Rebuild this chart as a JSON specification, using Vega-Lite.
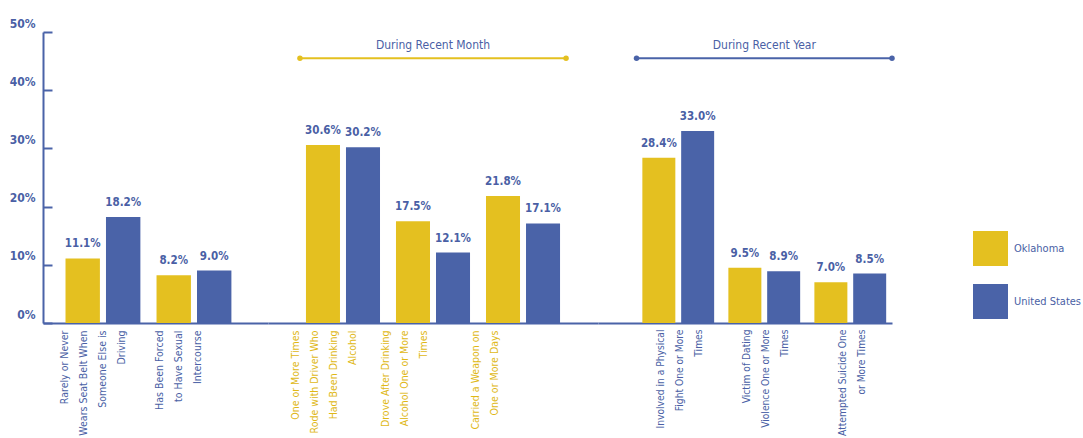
{
  "$schema": "https://vega.github.io/schema/vega-lite/v6.json",
  "background": "white",
  "padding": {"left": 9, "top": 17, "right": 5, "bottom": 0},
  "config": {
    "font": "DejaVu Sans Condensed",
    "view": {"stroke": null},
    "concat": {"spacing": 0},
    "axis": {"domainColor": "#4A63A8", "domainWidth": 2, "tickColor": "#4A63A8", "tickWidth": 2, "grid": false, "title": null, "labelFont": "DejaVu Sans Condensed", "labelColor": "#4A5FA5"}
  },
  "datasets": {
    "bars": [
      {"section": "none", "measure": "Rarely or Never\nWears Seat Belt When\nSomeone Else is\nDriving", "series": "Oklahoma", "value": 11.1},
      {"section": "none", "measure": "Rarely or Never\nWears Seat Belt When\nSomeone Else is\nDriving", "series": "United States", "value": 18.2},
      {"section": "none", "measure": "Has Been Forced\nto Have Sexual\nIntercourse", "series": "Oklahoma", "value": 8.2},
      {"section": "none", "measure": "Has Been Forced\nto Have Sexual\nIntercourse", "series": "United States", "value": 9.0},
      {"section": "month", "measure": "One or More Times\nRode with Driver Who\nHad Been Drinking\nAlcohol", "series": "Oklahoma", "value": 30.6},
      {"section": "month", "measure": "One or More Times\nRode with Driver Who\nHad Been Drinking\nAlcohol", "series": "United States", "value": 30.2},
      {"section": "month", "measure": "Drove After Drinking\nAlcohol One or More\nTimes", "series": "Oklahoma", "value": 17.5},
      {"section": "month", "measure": "Drove After Drinking\nAlcohol One or More\nTimes", "series": "United States", "value": 12.1},
      {"section": "month", "measure": "Carried a Weapon on\nOne or More Days", "series": "Oklahoma", "value": 21.8},
      {"section": "month", "measure": "Carried a Weapon on\nOne or More Days", "series": "United States", "value": 17.1},
      {"section": "year", "measure": "Involved in a Physical\nFight One or More\nTimes", "series": "Oklahoma", "value": 28.4},
      {"section": "year", "measure": "Involved in a Physical\nFight One or More\nTimes", "series": "United States", "value": 33.0},
      {"section": "year", "measure": "Victim of Dating\nViolence One or More\nTimes", "series": "Oklahoma", "value": 9.5},
      {"section": "year", "measure": "Victim of Dating\nViolence One or More\nTimes", "series": "United States", "value": 8.9},
      {"section": "year", "measure": "Attempted Suicide One\nor More Times", "series": "Oklahoma", "value": 7.0},
      {"section": "year", "measure": "Attempted Suicide One\nor More Times", "series": "United States", "value": 8.5}
    ],
    "brackets": [
      {"section": "month", "title": "During Recent Month", "from": "One or More Times\nRode with Driver Who\nHad Been Drinking\nAlcohol", "mid": "Drove After Drinking\nAlcohol One or More\nTimes", "to": "Carried a Weapon on\nOne or More Days"},
      {"section": "year", "title": "During Recent Year", "from": "Involved in a Physical\nFight One or More\nTimes", "mid": "Victim of Dating\nViolence One or More\nTimes", "to": "Attempted Suicide One\nor More Times"}
    ]
  },
  "hconcat": [
    {
      "width": 225, "height": 291,
      "layer": [
        {
          "data": {"name": "bars"},
          "transform": [{"filter": "datum.section == 'none'"}],
          "mark": {"type": "bar"},
          "encoding": {
            "x": {"field": "measure", "type": "nominal", "sort": null,
              "scale": {"paddingInner": 0.044, "paddingOuter": 0.258, "align": 0.35},
              "axis": {"labelAngle": -90, "labelAlign": "right", "labelBaseline": "middle", "labelExpr": "split(datum.value, '\\n')", "labelLineHeight": 19, "labelFontSize": 10.5, "labelPadding": 7, "ticks": false, "labelLimit": 200,
                "labelOffset": {"condition": {"test": "indexof(datum.value, 'Rarely') == 0", "value": -38}, "value": -34}, "labelColor": "#4A5FA5"}},
            "xOffset": {"field": "series", "type": "nominal", "sort": ["Oklahoma", "United States"], "scale": {"paddingInner": 0.15, "paddingOuter": 0.15}},
            "y": {"field": "value", "type": "quantitative", "scale": {"domain": [0, 50], "nice": false},
              "axis": {"values": [0, 10, 20, 30, 40, 50], "labelExpr": "datum.value + '%'", "tickSize": -9, "labelPadding": 17, "labelFontSize": 12, "labelFontWeight": "bold", "labelOffset": -9}},
            "color": {"field": "series", "type": "nominal",
              "scale": {"domain": ["Oklahoma", "United States"], "range": ["#E4C020", "#4A63A8"]},
              "legend": {"title": null, "orient": "none", "legendX": 930, "legendY": 199, "symbolType": "square", "symbolSize": 1225, "symbolStrokeWidth": 0, "symbolOpacity": 1, "rowPadding": 18, "labelOffset": 6, "labelFontSize": 11, "labelFontWeight": "normal", "labelColor": "#4A5FA5", "labelFont": "DejaVu Sans Condensed", "labelLimit": 200}}
          }
        },
        {
          "data": {"name": "bars"},
          "transform": [{"filter": "datum.section == 'none'"}, {"calculate": "format(datum.value, '.1f') + '%'", "as": "label"}],
          "mark": {"type": "text", "baseline": "bottom", "dy": -9, "fontSize": 11.5, "fontWeight": "bold", "color": "#4A5FA5"},
          "encoding": {
            "x": {"field": "measure", "type": "nominal", "sort": null},
            "xOffset": {"field": "series", "type": "nominal", "sort": ["Oklahoma", "United States"]},
            "y": {"field": "value", "type": "quantitative"},
            "text": {"field": "label"}
          }
        }
      ]
    },
    {
      "width": 330, "height": 291,
      "layer": [
        {
          "data": {"name": "bars"},
          "transform": [{"filter": "datum.section == 'month'"}],
          "mark": {"type": "bar"},
          "encoding": {
            "x": {"field": "measure", "type": "nominal",
              "scale": {"domain": ["One or More Times\nRode with Driver Who\nHad Been Drinking\nAlcohol", "Drove After Drinking\nAlcohol One or More\nTimes", "Carried a Weapon on\nOne or More Days"], "paddingInner": 0.044, "paddingOuter": 0.355, "align": 0.5},
              "axis": {"labelAngle": -90, "labelAlign": "right", "labelBaseline": "middle", "labelExpr": "split(datum.value, '\\n')", "labelLineHeight": 19, "labelFontSize": 10.5, "labelPadding": 7, "ticks": false, "labelLimit": 200, "labelOffset": -47, "labelColor": "#E0B816"}},
            "xOffset": {"field": "series", "type": "nominal", "sort": ["Oklahoma", "United States"], "scale": {"paddingInner": 0.15, "paddingOuter": 0.15}},
            "y": {"field": "value", "type": "quantitative", "scale": {"domain": [0, 50], "nice": false}, "axis": null},
            "color": {"field": "series", "type": "nominal", "scale": {"domain": ["Oklahoma", "United States"], "range": ["#E4C020", "#4A63A8"]}, "legend": null}
          }
        },
        {
          "data": {"name": "bars"},
          "transform": [{"filter": "datum.section == 'month'"}, {"calculate": "format(datum.value, '.1f') + '%'", "as": "label"}],
          "mark": {"type": "text", "baseline": "bottom", "dy": -9, "fontSize": 11.5, "fontWeight": "bold", "color": "#4A5FA5"},
          "encoding": {
            "x": {"field": "measure", "type": "nominal"},
            "xOffset": {"field": "series", "type": "nominal", "sort": ["Oklahoma", "United States"]},
            "y": {"field": "value", "type": "quantitative"},
            "text": {"field": "label"}
          }
        },
        {
          "data": {"name": "brackets"},
          "transform": [{"filter": "datum.section == 'month'"}],
          "mark": {"type": "rule", "color": "#E4C020", "strokeWidth": 2},
          "encoding": {
            "x": {"field": "from", "type": "nominal", "bandPosition": 0},
            "x2": {"field": "to", "bandPosition": 1},
            "y": {"datum": 45.5}
          }
        },
        {
          "data": {"name": "brackets"},
          "transform": [{"filter": "datum.section == 'month'"}],
          "mark": {"type": "point", "filled": true, "opacity": 1, "color": "#E4C020", "size": 30},
          "encoding": {
            "x": {"field": "from", "type": "nominal", "bandPosition": 0},
            "y": {"datum": 45.5}
          }
        },
        {
          "data": {"name": "brackets"},
          "transform": [{"filter": "datum.section == 'month'"}],
          "mark": {"type": "point", "filled": true, "opacity": 1, "color": "#E4C020", "size": 30},
          "encoding": {
            "x": {"field": "to", "type": "nominal", "bandPosition": 1},
            "y": {"datum": 45.5}
          }
        },
        {
          "data": {"name": "brackets"},
          "transform": [{"filter": "datum.section == 'month'"}],
          "mark": {"type": "text", "fontSize": 12, "color": "#4A5FA5", "baseline": "middle"},
          "encoding": {
            "x": {"field": "mid", "type": "nominal"},
            "y": {"datum": 47.8},
            "text": {"field": "title"}
          }
        }
      ]
    },
    {
      "width": 294, "height": 291,
      "layer": [
        {
          "data": {"name": "bars"},
          "transform": [{"filter": "datum.section == 'year'"}],
          "mark": {"type": "bar"},
          "encoding": {
            "x": {"field": "measure", "type": "nominal",
              "scale": {"domain": ["Involved in a Physical\nFight One or More\nTimes", "Victim of Dating\nViolence One or More\nTimes", "Attempted Suicide One\nor More Times"], "paddingInner": 0.03, "paddingOuter": 0.224, "align": 1},
              "axis": {"labelAngle": -90, "labelAlign": "right", "labelBaseline": "middle", "labelExpr": "split(datum.value, '\\n')", "labelLineHeight": 19, "labelFontSize": 10.2, "labelPadding": 6, "ticks": false, "labelLimit": 200,
                "labelOffset": {"condition": {"test": "indexof(datum.value, 'Attempted') == 0", "value": -7}, "value": -17}, "labelColor": "#4A5FA5"}},
            "xOffset": {"field": "series", "type": "nominal", "sort": ["Oklahoma", "United States"], "scale": {"paddingInner": 0.15, "paddingOuter": 0.15}},
            "y": {"field": "value", "type": "quantitative", "scale": {"domain": [0, 50], "nice": false}, "axis": null},
            "color": {"field": "series", "type": "nominal", "scale": {"domain": ["Oklahoma", "United States"], "range": ["#E4C020", "#4A63A8"]}, "legend": null}
          }
        },
        {
          "data": {"name": "bars"},
          "transform": [{"filter": "datum.section == 'year'"}, {"calculate": "format(datum.value, '.1f') + '%'", "as": "label"}],
          "mark": {"type": "text", "baseline": "bottom", "dy": -9, "fontSize": 11.5, "fontWeight": "bold", "color": "#4A5FA5"},
          "encoding": {
            "x": {"field": "measure", "type": "nominal"},
            "xOffset": {"field": "series", "type": "nominal", "sort": ["Oklahoma", "United States"]},
            "y": {"field": "value", "type": "quantitative"},
            "text": {"field": "label"}
          }
        },
        {
          "data": {"name": "brackets"},
          "transform": [{"filter": "datum.section == 'year'"}],
          "mark": {"type": "rule", "color": "#4A63A8", "strokeWidth": 2},
          "encoding": {
            "x": {"field": "from", "type": "nominal", "bandPosition": 0},
            "x2": {"field": "to", "bandPosition": 1},
            "y": {"datum": 45.5}
          }
        },
        {
          "data": {"name": "brackets"},
          "transform": [{"filter": "datum.section == 'year'"}],
          "mark": {"type": "point", "filled": true, "opacity": 1, "color": "#4A63A8", "size": 30},
          "encoding": {
            "x": {"field": "from", "type": "nominal", "bandPosition": 0},
            "y": {"datum": 45.5}
          }
        },
        {
          "data": {"name": "brackets"},
          "transform": [{"filter": "datum.section == 'year'"}],
          "mark": {"type": "point", "filled": true, "opacity": 1, "color": "#4A63A8", "size": 30},
          "encoding": {
            "x": {"field": "to", "type": "nominal", "bandPosition": 1},
            "y": {"datum": 45.5}
          }
        },
        {
          "data": {"name": "brackets"},
          "transform": [{"filter": "datum.section == 'year'"}],
          "mark": {"type": "text", "fontSize": 12, "color": "#4A5FA5", "baseline": "middle"},
          "encoding": {
            "x": {"field": "mid", "type": "nominal"},
            "y": {"datum": 47.8},
            "text": {"field": "title"}
          }
        }
      ]
    }
  ],
  "resolve": {"scale": {"x": "independent", "xOffset": "independent", "y": "shared", "color": "shared"}}
}
